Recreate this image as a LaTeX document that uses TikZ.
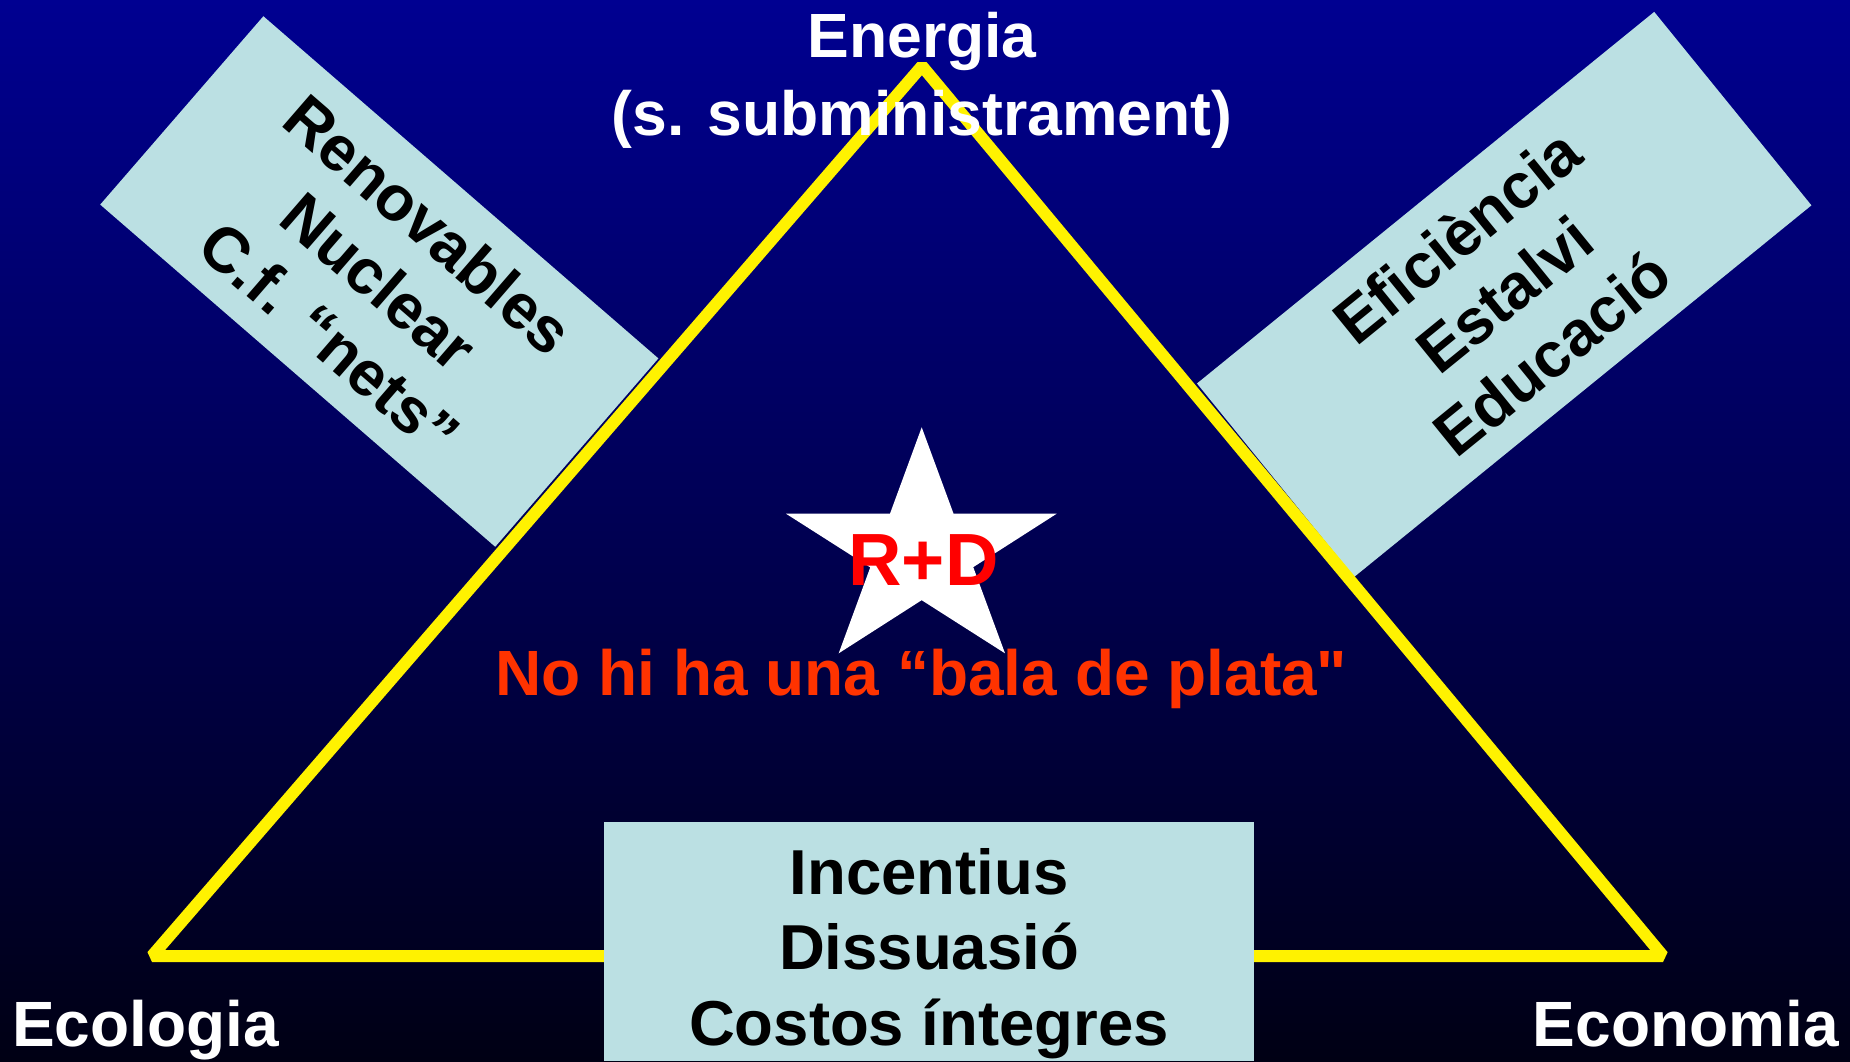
\documentclass[tikz,border=0pt]{standalone}
\usepackage{fontspec}
\setmainfont{Liberation Sans}[Ligatures=TeXOff]
\usepackage{xcolor}
\definecolor{slidetop}{RGB}{0,0,145}
\definecolor{slidebottom}{RGB}{0,0,20}
\definecolor{boxfill}{RGB}{187,224,227}
\definecolor{plataorange}{RGB}{255,51,0}

\begin{document}
\begin{tikzpicture}[x=1pt,y=1pt,yscale=-1,xscale=1,
  infobox/.style={fill=boxfill, inner sep=0pt, align=center, text=black, font=\fontsize{63.5}{75.5}\selectfont\bfseries},
  corner/.style={text=white, inner sep=0pt, font=\fontsize{64}{75}\selectfont\bfseries}]
\useasboundingbox (0,0) rectangle (1850,1061);

%Shape: Background
\shade [top color=slidetop, bottom color=slidebottom] (0,0) rectangle (1850,1061);

%Shape: Rotated Rectangle (left)
\node [infobox, rotate=-40.9, minimum width=522.6, minimum height=249.2] (supply) at (379.3,281.5) {Renovables\\Nuclear\\C.f. “nets”};
%Shape: Rotated Rectangle (right)
\node [infobox, rotate=39.1, minimum width=589.2, minimum height=249.3] (demand) at (1504.2,294.4) {Eficiència\\Estalvi\\Educació};

%Shape: Triangle
\draw [color=yellow, line width=12, line join=bevel] (922,66) -- (1663,956) -- (152,956) -- cycle;

%Shape: Rectangle (bottom)
\node [infobox, minimum width=650, minimum height=239, anchor=north] (policy) at (929,822) {};

%Shape: Star
\fill [white] (921.7,427.3) -- (838.7,653.3) -- (1056.7,513.7) -- (786,513.7) -- (1005,653.3) -- cycle;

% Text Node
\node [corner, align=center, font=\fontsize{62.5}{77.7}\selectfont\bfseries] (energia) at (922,80.5) {Energia\\(s. subministrament)};
% Text Node
\node [corner, anchor=base west] (ecologia) at (12,1046.7) {Ecologia};
% Text Node
\node [corner, anchor=base east] (economia) at (1839,1046.7) {Economia};
% Text Node
\node [infobox, fill=none] (policytext) at (929,953.6) {Incentius\\Dissuasió\\Costos íntegres};
% Text Node
\node [anchor=base, inner sep=0pt, text=red, font=\fontsize{74}{80}\selectfont\bfseries] (rd) at (923.4,585) {R+D};
% Text Node
\node [anchor=base, inner sep=0pt, text=plataorange, font=\fontsize{64}{75}\selectfont\bfseries] (plata) at (921.4,695) {No hi ha una “bala de plata"};

\end{tikzpicture}
\end{document}
